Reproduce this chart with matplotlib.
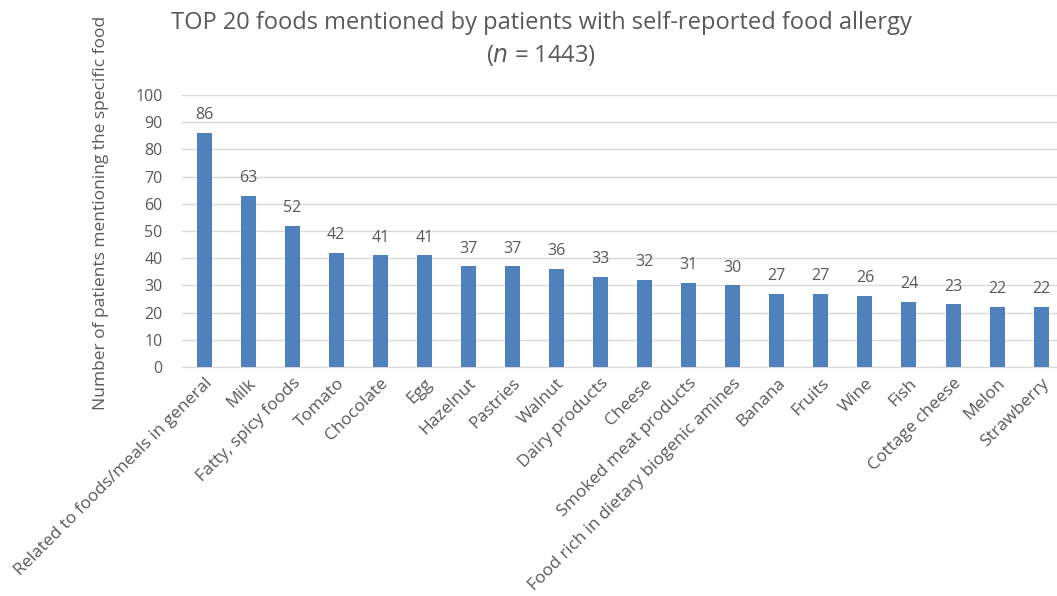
import matplotlib.pyplot as plt

plt.rcParams['font.family'] = ['Open Sans', 'DejaVu Sans']

# data
foods = ['Related to foods/meals in general', 'Milk', 'Fatty, spicy foods', 'Tomato',
         'Chocolate', 'Egg', 'Hazelnut', 'Pastries', 'Walnut', 'Dairy products',
         'Cheese', 'Smoked meat products', 'Food rich in dietary biogenic amines',
         'Banana', 'Fruits', 'Wine', 'Fish', 'Cottage cheese', 'Melon', 'Strawberry']
counts = [86, 63, 52, 42, 41, 41, 37, 37, 36, 33, 32, 31, 30, 27, 27, 26, 24, 23, 22, 22]
yticks = list(range(0, 101, 10))

grey = '#595959'
fig = plt.figure(figsize=(10.57, 5.96), dpi=100)
ax = fig.add_axes([182 / 1057, 1 - 367 / 596, (1057 - 182) / 1057, (367 - 95) / 596])

x = range(len(foods))
bars = ax.bar(x, counts, width=0.34, color='#4f81bd', zorder=3)
for b, v in zip(bars, counts):
    ax.text(b.get_x() + b.get_width() / 2, v + 3.6, str(v), ha='center', va='bottom',
            fontsize=11.5, color=grey)

ax.set_ylim(0, 100)
ax.set_xlim(-0.5, 19.36)
ax.set_yticks(yticks)
ax.set_xticks(list(x))
ax.set_xticklabels(foods, rotation=45, ha='right', rotation_mode='anchor', fontsize=12.5)
ax.tick_params(axis='both', length=0, labelcolor=grey)
ax.tick_params(axis='y', pad=14, labelsize=11.5)
ax.tick_params(axis='x', pad=6)
ax.yaxis.grid(True, color='#d9d9d9', linewidth=1, zorder=0)
for s in ['top', 'right', 'left']:
    ax.spines[s].set_visible(False)
ax.spines['bottom'].set_color('#d9d9d9')

ax.set_ylabel('Number of patients mentioning the specific food', fontsize=12.5, color=grey)
ax.yaxis.set_label_coords(-0.083, 0.565)

fig.text(541 / 1057, 1 - 23 / 596, 'TOP 20 foods mentioned by patients with self-reported food allergy',
         ha='center', va='center', fontsize=17, color=grey)
fig.text(541 / 1057, 1 - 56 / 596, '($n$ = 1443)', ha='center', va='center', fontsize=17, color=grey)

plt.savefig('out.png')
